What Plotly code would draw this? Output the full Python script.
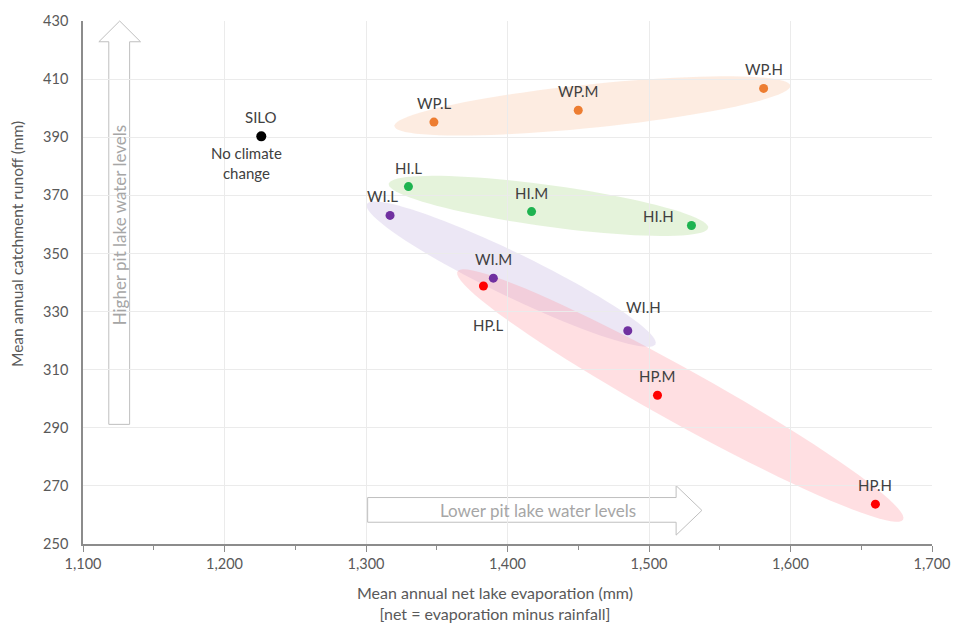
import numpy as np
import plotly.graph_objects as go

# ---- data ----
scenarios = ["SILO", "WP.L", "WP.M", "WP.H", "HI.L", "HI.M", "HI.H",
             "WI.L", "WI.M", "WI.H", "HP.L", "HP.M", "HP.H"]
evaporation = [1226, 1348, 1450, 1581, 1330, 1417, 1530,
               1317, 1390, 1485, 1383, 1506, 1660]
runoff = [390.3, 395.2, 399.3, 406.8, 373.0, 364.4, 359.6,
          363.1, 341.5, 323.4, 338.8, 301.2, 263.7]
groups = ["SILO", "WP", "WP", "WP", "HI", "HI", "HI",
          "WI", "WI", "WI", "HP", "HP", "HP"]
x_ticks = [1100, 1200, 1300, 1400, 1500, 1600, 1700]
y_ticks = [250, 270, 290, 310, 330, 350, 370, 390, 410, 430]

# ---- style ----
FONT = "Lato"
W, H = 962, 625
ML, MR, MT, MB = 83, 23, 15, 81
PW, PH = W - ML - MR, H - MT - MB
XR = (1100, 1700)
YR = (250, 430)

point_color = {"SILO": "#000000", "WP": "#ED7D31", "HI": "#1EB350",
               "WI": "#7030A0", "HP": "#FF0000"}
ellipse_style = {  # fill, pad before L, pad after H, half width (px)
    "WP": ("rgba(248,200,168,0.34)", 40, 27, 22),
    "HI": ("rgba(190,225,165,0.40)", 20, 17, 21),
    "WI": ("rgba(200,185,225,0.35)", 26, 31, 22),
    "HP": ("rgba(255,150,160,0.30)", 30, 32, 27),
}
# label offsets in px (dx, dy) relative to the point
label_offset = {"SILO": (0, -19), "WP.L": (1, -19), "WP.M": (0, -19), "WP.H": (0, -19),
                "HI.L": (0, -19), "HI.M": (0, -19), "HI.H": (-33, -10),
                "WI.L": (-8, -19), "WI.M": (0, -19), "WI.H": (16, -24),
                "HP.L": (5, 39), "HP.M": (0, -19), "HP.H": (0, -19)}


def to_px(x, y):
    xp = ML + (x - XR[0]) / (XR[1] - XR[0]) * PW
    yp = MT + (YR[1] - y) / (YR[1] - YR[0]) * PH
    return xp, yp


def to_data(xp, yp):
    x = XR[0] + (xp - ML) / PW * (XR[1] - XR[0])
    y = YR[1] - (yp - MT) / PH * (YR[1] - YR[0])
    return x, y


def px_paper(xp, yp):
    return (xp - ML) / PW, 1 - (yp - MT) / PH


fig = go.Figure()

# ellipses around scenario groups
shapes = []
for g, (fill, pad0, pad1, half) in ellipse_style.items():
    idx = [i for i, gg in enumerate(groups) if gg == g]
    p0 = np.array(to_px(evaporation[idx[0]], runoff[idx[0]]))
    p1 = np.array(to_px(evaporation[idx[-1]], runoff[idx[-1]]))
    u = (p1 - p0) / np.linalg.norm(p1 - p0)
    a0 = p0 - u * pad0
    a1 = p1 + u * pad1
    c = (a0 + a1) / 2
    a = np.linalg.norm(a1 - a0) / 2
    v = np.array([-u[1], u[0]])
    t = np.linspace(0, 2 * np.pi, 90)
    pts = [c + u * a * np.cos(tt) + v * half * np.sin(tt) for tt in t]
    dpts = [to_data(p[0], p[1]) for p in pts]
    path = "M " + " L ".join(f"{x:.3f},{y:.3f}" for x, y in dpts) + " Z"
    shapes.append(dict(type="path", path=path, xref="x", yref="y",
                       fillcolor=fill, line=dict(width=0), layer="below"))


def arrow_path(pts):
    pp = [px_paper(*p) for p in pts]
    return "M " + " L ".join(f"{x:.5f},{y:.5f}" for x, y in pp) + " Z"


up_arrow = [(109, 423), (130, 423), (130, 36), (141, 36), (120, 15), (99, 36), (109, 36)]
right_arrow = [(370, 497), (681, 497), (681, 485), (707, 510), (681, 535), (681, 522), (370, 522)]
for pts in (up_arrow, right_arrow):
    shapes.append(dict(type="path", path=arrow_path(pts), xref="paper", yref="paper",
                       fillcolor="white", line=dict(color="#BFBFBF", width=1), layer="below"))

fig.add_trace(go.Scatter(
    x=evaporation, y=runoff, mode="markers",
    marker=dict(size=[10] + [9] * 12, color=[point_color[g] for g in groups],
                opacity=1, line=dict(width=0)),
    hoverinfo="text", text=scenarios, showlegend=False, cliponaxis=False))

annotations = []
for name, x, y in zip(scenarios, evaporation, runoff):
    dx, dy = label_offset[name]
    annotations.append(dict(x=x, y=y, xref="x", yref="y", text=name, showarrow=False,
                            xanchor="center", yanchor="middle",
                            xshift=dx, yshift=-dy, font=dict(family=FONT, size=15, color="#404040")))
annotations.append(dict(x=evaporation[0], y=runoff[0], xref="x", yref="y",
                        text="No climate<br>change", showarrow=False, xanchor="center", yanchor="middle",
                        xshift=-15, yshift=-27,
                        font=dict(family=FONT, size=15, color="#404040")))


def paper_text(text, xp, yp, size, color, angle=0):
    ax, ay = px_paper(xp, yp)
    return dict(x=ax, y=ay, xref="paper", yref="paper", text=text, textangle=angle,
                showarrow=False, xanchor="center", yanchor="middle",
                font=dict(family=FONT, size=size, color=color))


annotations.append(paper_text("Higher pit lake water levels", 120, 221, 17, "#A6A6A6", -90))
annotations.append(paper_text("Lower pit lake water levels", 542, 510, 17, "#A6A6A6"))
annotations.append(paper_text("Mean annual catchment runoff (mm)", 17, 241, 15.5, "#595959", -90))
annotations.append(paper_text("Mean annual net lake evaporation (mm)<br>[net = evaporation minus rainfall]",
                              498, 604, 16, "#595959"))

fig.update_layout(
    width=W, height=H, margin=dict(l=ML, r=MR, t=MT, b=MB),
    paper_bgcolor="white", plot_bgcolor="white",
    font=dict(family=FONT, size=14, color="#595959"),
    shapes=shapes, annotations=annotations,
    xaxis=dict(range=list(XR), tickvals=x_ticks, ticktext=[f"{v:,}" for v in x_ticks],
               showgrid=True, gridcolor="#EBEBEB", gridwidth=1, zeroline=False,
               showline=True, linecolor="#8C8C8C", linewidth=1.5,
               ticks="outside", ticklen=6, tickcolor="#8C8C8C",
               minor=dict(dtick=50, ticks="outside", ticklen=4, tickcolor="#8C8C8C", showgrid=False),
               tickfont=dict(family=FONT, size=14.5, color="#595959")),
    yaxis=dict(range=list(YR), tickvals=y_ticks, showgrid=True, gridcolor="#EBEBEB", gridwidth=1,
               zeroline=False, showline=True, linecolor="#8C8C8C", linewidth=1.5, ticks="",
               ticklabelstandoff=10,
               tickfont=dict(family=FONT, size=14.5, color="#595959")),
)

fig.write_html("out.html", config={"displayModeBar": False},
               post_script="document.body.style.margin='0px';document.body.style.overflow='hidden';")
